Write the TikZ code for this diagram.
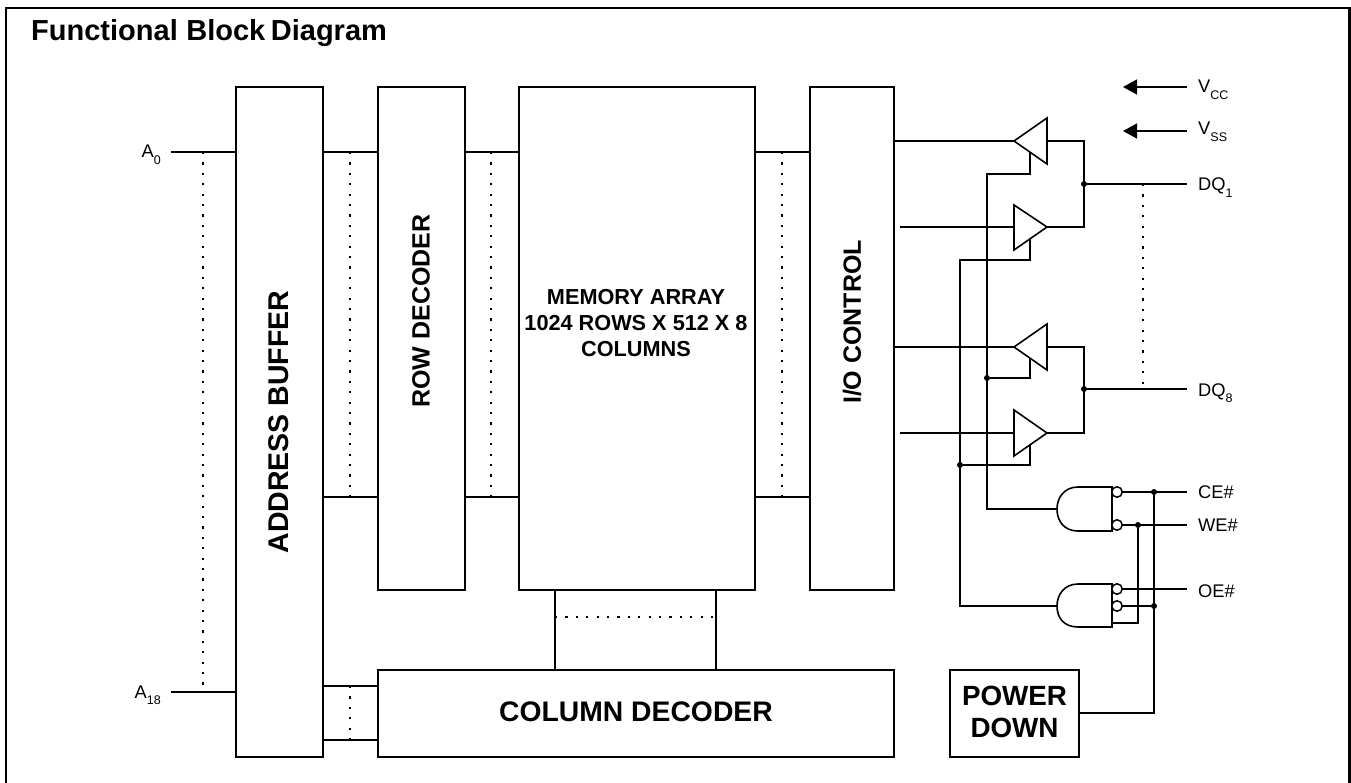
\documentclass[tikz,border=0pt]{standalone}
\usepackage{fontspec}
\setmainfont{Liberation Sans}
\usetikzlibrary{calc,arrows.meta}
\newcommand{\lowtxt}[2]{#1\raisebox{-6.5pt}{\fontsize{12.5}{14}\selectfont #2}}
\tikzset{
  wire/.style={line width=1.6pt,line cap=butt,line join=miter},
  dotline/.style={line width=2pt,dash pattern=on 2.2pt off 8.2pt},
  blockbox/.style={draw,line width=1.7pt,inner sep=0pt,outer sep=0pt,anchor=north west},
  blocktext/.style={inner sep=0pt,align=center},
  pinlabel/.style={font=\fontsize{18.3}{20}\selectfont,inner sep=0pt},
  joint/.style={circle,fill,inner sep=0pt,minimum size=6pt},
  bubble/.style={circle,draw,fill=white,line width=1.5pt,inner sep=0pt,minimum size=10.5pt},
  tip/.style={-{Triangle[length=14pt,width=15pt]}},
  framestyle/.style={line width=2.2pt},
}
\begin{document}
\begin{tikzpicture}[x=1pt,y=-1pt]
\useasboundingbox (0,0) rectangle (1351,783);
\coordinate (fbl) at (6,783);
\coordinate (ftl) at (6,8);
\coordinate (ftr) at (1349.5,8);
\coordinate (fbr) at (1349.5,783);
\draw[framestyle] (fbl) -- (ftl) -- (ftr) -- (fbr);
\node[font=\fontsize{29}{32}\selectfont\bfseries,inner sep=0pt,anchor=base west] (title) at (31,41) {Functional\hspace{0.5pt} Block\hspace{-2.5pt} Diagram};
% blocks
\node[blockbox,minimum width=87pt,minimum height=670pt] (addr) at (236,87) {};
\node[blockbox,minimum width=87pt,minimum height=503pt] (row) at (378,87) {};
\node[blockbox,minimum width=236pt,minimum height=503pt] (mem) at (519,87) {};
\node[blockbox,minimum width=84pt,minimum height=503pt] (io) at (810,87) {};
\node[blockbox,minimum width=516pt,minimum height=87pt] (col) at (378,670) {};
\node[blockbox,minimum width=129pt,minimum height=87pt] (pd) at (950,670) {};
\node[blocktext,rotate=90,font=\fontsize{28.5}{32}\selectfont\bfseries] (addrt) at (279,422) {ADDRESS BUFFER};
\node[blocktext,rotate=90,font=\fontsize{25}{30}\selectfont\bfseries] (rowt) at (421,311) {ROW DECODER};
\node[blocktext,rotate=90,font=\fontsize{25}{30}\selectfont\bfseries] (iot) at (852,322) {I/O CONTROL};
\node[blocktext,font=\fontsize{21.7}{26}\selectfont\bfseries] (memt) at (636,323) {MEMORY ARRAY\\1024 ROWS X 512 X 8\\COLUMNS};
\node[blocktext,font=\fontsize{28.3}{32}\selectfont\bfseries] (colt) at (636,712) {COLUMN DECODER};
\node[blocktext,font=\fontsize{27.8}{32}\selectfont\bfseries] (pdt) at (1014.5,712) {POWER\\DOWN};
% address pins
\coordinate (a0) at (171,152);
\coordinate (a18) at (171,692);
\node[pinlabel,anchor=base east] (a0l) at (161,158) {\lowtxt{A}{0}};
\node[pinlabel,anchor=base east] (a18l) at (161,698) {\lowtxt{A}{18}};
\draw[wire] (a0) -- (a0 -| addr.west);
\draw[wire] (a18) -- (a18 -| addr.west);
\draw[dotline] (203,152) -- (203,692);
% buses
\foreach \ya/\na in {152/p,497/q}{
  \coordinate (\na) at (0,\ya);
  \draw[wire] (\na -| addr.east) -- (\na -| row.west);
  \draw[wire] (\na -| row.east) -- (\na -| mem.west);
  \draw[wire] (\na -| mem.east) -- (\na -| io.west);
}
\draw[dotline] (350,152) -- (350,497);
\draw[dotline] (491,152) -- (491,497);
\draw[dotline] (782,152) -- (782,497);
\coordinate (r) at (0,686);
\coordinate (s) at (0,740);
\draw[wire] (r -| addr.east) -- (r -| col.west);
\draw[wire] (s -| addr.east) -- (s -| col.west);
\draw[dotline] (350,686) -- (350,740);
\coordinate (cl) at (555,0);
\coordinate (cr) at (716,0);
\draw[wire] (cl |- mem.south) -- (cl |- col.north);
\draw[wire] (cr |- mem.south) -- (cr |- col.north);
\draw[dotline] (555,617) -- (716,617);
% supply
\node[pinlabel,anchor=base west] (vcc) at (1198,93) {\lowtxt{V}{CC}};
\node[pinlabel,anchor=base west] (vss) at (1198,135) {\lowtxt{V}{SS}};
\coordinate (vccr) at (1187,87);
\coordinate (vccl) at (1123,87);
\coordinate (vssr) at (1187,131);
\coordinate (vssl) at (1123,131);
\draw[wire,tip] (vccr) -- (vccl);
\draw[wire,tip] (vssr) -- (vssl);
% buffers
\draw[wire] (1014,141) -- (1047,118) -- (1047,164) -- cycle;
\draw[wire] (1047,227) -- (1014,205) -- (1014,250) -- cycle;
\draw[wire] (1014,347) -- (1047,324) -- (1047,370) -- cycle;
\draw[wire] (1047,433) -- (1014,410) -- (1014,456) -- cycle;
\draw[wire] (io.east |- 0,141) -- (1014,141);
\draw[wire] (900,227) -- (1014,227);
\draw[wire] (io.east |- 0,347) -- (1014,347);
\draw[wire] (900,433) -- (1014,433);
\draw[wire] (1047,141) -- (1084,141) -- (1084,227) -- (1047,227);
\draw[wire] (1047,347) -- (1084,347) -- (1084,433) -- (1047,433);
\node[joint] (j1) at (1084,184) {};
\node[joint] (j8) at (1084,389) {};
\coordinate (dq1e) at (1187,184);
\coordinate (dq8e) at (1187,389);
\draw[wire] (j1) -- (dq1e);
\draw[wire] (j8) -- (dq8e);
\draw[dotline] (1143,184) -- (1143,386);
\node[pinlabel,anchor=base west] (dq1) at (1198,191) {\lowtxt{DQ}{1}};
\node[pinlabel,anchor=base west] (dq8) at (1198,396) {\lowtxt{DQ}{8}};
% gates
\draw[wire] (1112,487) -- (1078,487) .. controls (1064,487) and (1057,498) .. (1057,509) .. controls (1057,521) and (1064,531) .. (1078,531) -- (1112,531) -- cycle;
\draw[wire] (1112,584) -- (1078,584) .. controls (1064,584) and (1057,595) .. (1057,606) .. controls (1057,618) and (1064,627) .. (1078,627) -- (1112,627) -- cycle;
\coordinate (cee) at (1187,492);
\coordinate (wee) at (1187,525);
\coordinate (oee) at (1187,589);
\draw[wire] (1117,492) -- (cee);
\draw[wire] (1117,525) -- (wee);
\draw[wire] (1117,589) -- (oee);
\node[bubble] (b1) at (1117,492) {};
\node[bubble] (b2) at (1117,525) {};
\node[joint] (jce) at (1154,492) {};
\node[joint] (jwe) at (1138,525) {};
\node[joint] (jpd) at (1154,606) {};
\draw[wire] (1117,606) -- (jpd);
\node[bubble] (b3) at (1117,589) {};
\node[bubble] (b4) at (1117,606) {};
\draw[wire] (jce) -- (1154,713) -- (pd.east |- 0,713);
\draw[wire] (jwe) -- (1138,623) -- (1112,623);
\node[pinlabel,anchor=base west] (ce) at (1198,498) {CE\#};
\node[pinlabel,anchor=base west] (we) at (1198,531) {WE\#};
\node[pinlabel,anchor=base west] (oe) at (1198,597) {OE\#};
% enables
\node[joint] (je1) at (987,378) {};
\node[joint] (je2) at (960,465) {};
\draw[wire] (1030,152) -- (1030,174) -- (987,174) -- (987,509) -- (1057,509);
\draw[wire] (1030,239) -- (1030,260) -- (960,260) -- (960,606) -- (1057,606);
\draw[wire] (1030,358) -- (1030,378) -- (je1);
\draw[wire] (1030,444) -- (1030,465) -- (je2);
\end{tikzpicture}
\end{document}
